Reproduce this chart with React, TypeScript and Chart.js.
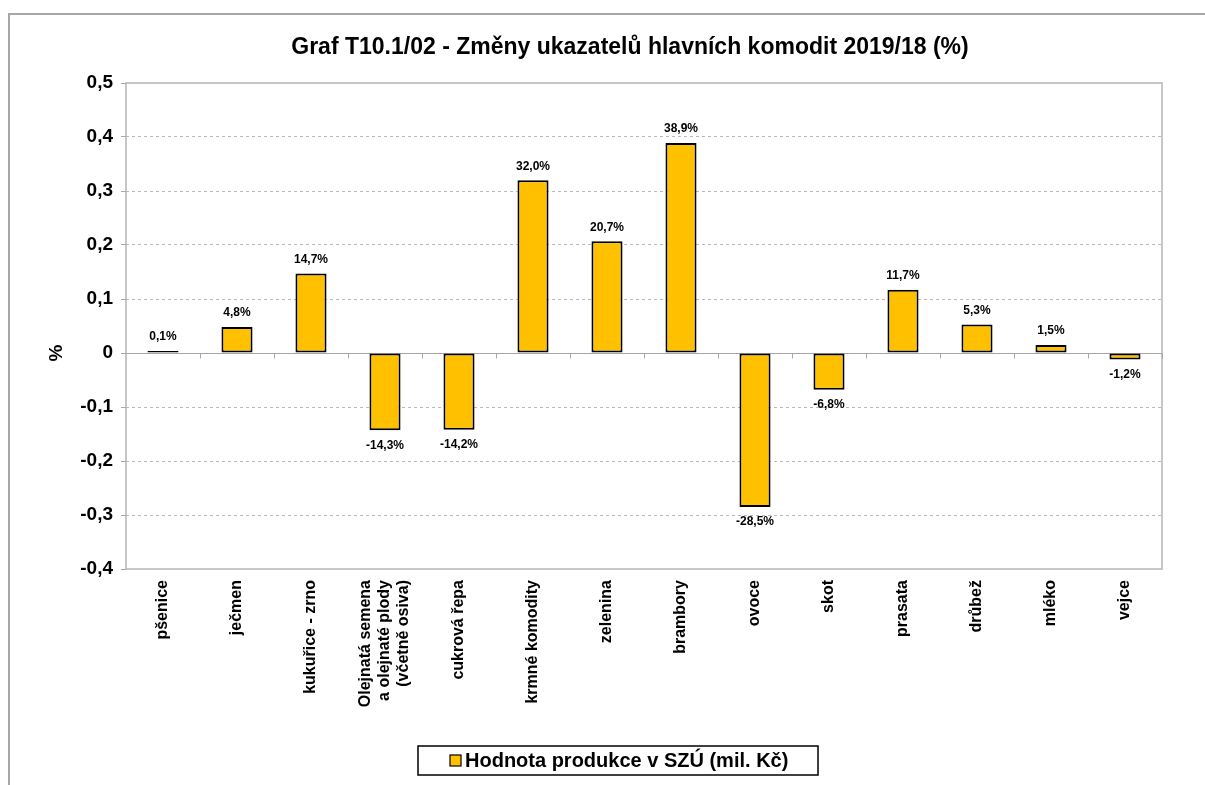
import React, { useEffect, useRef } from "react";
import { Chart, registerables } from "chart.js";

Chart.register(...registerables);

const TITLE = "Graf T10.1/02 - Změny ukazatelů hlavních komodit 2019/18 (%)";
const Y_TITLE = "%";
const SERIES_LABEL = "Hodnota produkce v SZÚ (mil. Kč)";
const categories: string[][] = [
  ["pšenice"],
  ["ječmen"],
  ["kukuřice - zrno"],
  ["Olejnatá semena", "a olejnaté plody", "(včetně osiva)"],
  ["cukrová řepa"],
  ["krmné komodity"],
  ["zelenina"],
  ["brambory"],
  ["ovoce"],
  ["skot"],
  ["prasata"],
  ["drůbež"],
  ["mléko"],
  ["vejce"],
];
const values: number[] = [
  0.001, 0.048, 0.147, -0.143, -0.142, 0.32, 0.207, 0.389, -0.285, -0.068, 0.117,
  0.053, 0.015, -0.012,
];
const Y_MIN = -0.4;
const Y_MAX = 0.5;
const Y_STEP = 0.1;

const FONT = "'Liberation Sans', Arial, sans-serif";

function fmtTick(v: number): string {
  if (Math.abs(v) < 1e-9) return "0";
  return v.toFixed(1).replace(".", ",");
}
function fmtPct(v: number): string {
  return (v * 100).toFixed(1).replace(".", ",") + "%";
}

const customPlugin = {
  id: "custom",
  beforeDatasetsDraw(chart: any) {
    const { ctx, chartArea } = chart;
    const x = chart.scales.x;
    const y = chart.scales.y;
    const y0 = Math.round(y.getPixelForValue(0)) + 0.5;
    ctx.save();
    // plot border
    ctx.strokeStyle = "#b4b4b4";
    ctx.lineWidth = 1.5;
    ctx.strokeRect(chartArea.left, chartArea.top, chartArea.right - chartArea.left, chartArea.bottom - chartArea.top);
    // zero line
    ctx.strokeStyle = "#a6a6a6";
    ctx.lineWidth = 1;
    ctx.beginPath();
    ctx.moveTo(chartArea.left, y0);
    ctx.lineTo(chartArea.right, y0);
    const n = categories.length;
    const step = x.getPixelForValue(1) - x.getPixelForValue(0);
    for (let i = 1; i <= n; i++) {
      const px = Math.round(x.getPixelForValue(i - 1) + step / 2) + 0.5;
      ctx.moveTo(px, y0);
      ctx.lineTo(px, y0 + 5);
    }
    ctx.stroke();
    // title
    ctx.fillStyle = "#000";
    ctx.font = `bold 23px ${FONT}`;
    ctx.textAlign = "center";
    ctx.textBaseline = "middle";
    ctx.fillText(TITLE, 620, 33);
    // y axis title
    ctx.font = `bold 19px ${FONT}`;
    ctx.save();
    ctx.translate(47, 338);
    ctx.rotate(-Math.PI / 2);
    ctx.fillText(Y_TITLE, 0, 0);
    ctx.restore();
    ctx.restore();
  },
  afterDatasetsDraw(chart: any) {
    const { ctx } = chart;
    const x = chart.scales.x;
    const meta = chart.getDatasetMeta(0);
    ctx.save();
    ctx.fillStyle = "#000";
    ctx.font = `bold 12px ${FONT}`;
    ctx.textAlign = "center";
    ctx.textBaseline = "middle";
    meta.data.forEach((bar: any, i: number) => {
      const v = values[i];
      const ty = v >= 0 ? Math.min(bar.y, bar.base) - 14 : bar.y + 15;
      ctx.fillText(fmtPct(v), bar.x, ty);
    });
    ctx.font = `bold 16px ${FONT}`;
    ctx.textAlign = "right";
    ctx.textBaseline = "middle";
    const topY = chart.chartArea.bottom + 11;
    const lh = 19;
    categories.forEach((lines, i) => {
      const cx = x.getPixelForValue(i);
      lines.forEach((line, j) => {
        const off = (j - (lines.length - 1) / 2) * lh;
        ctx.save();
        ctx.translate(cx + off, topY);
        ctx.rotate(-Math.PI / 2);
        ctx.fillText(line, 0, 0);
        ctx.restore();
      });
    });
    const ds = chart.data.datasets[0];
    const bx = 408, by = 731, bw = 400, bh = 29;
    ctx.strokeStyle = "#000";
    ctx.lineWidth = 1.5;
    ctx.strokeRect(bx, by, bw, bh);
    ctx.fillStyle = ds.backgroundColor;
    ctx.fillRect(440, by + 9, 11, 11);
    ctx.lineWidth = 1.2;
    ctx.strokeRect(440, by + 9, 11, 11);
    ctx.fillStyle = "#000";
    ctx.font = `bold 20px ${FONT}`;
    ctx.textAlign = "left";
    ctx.textBaseline = "middle";
    ctx.fillText(ds.label, 455, by + bh / 2 + 1);
    ctx.restore();
  },
};

export default function App() {
  const ref = useRef<HTMLCanvasElement | null>(null);
  useEffect(() => {
    if (!ref.current) return;
    const chart = new Chart(ref.current, {
      type: "bar",
      data: {
        labels: categories.map((c) => c.join(" ")),
        datasets: [
          {
            label: SERIES_LABEL,
            data: values,
            backgroundColor: "#FFC000",
            borderColor: "#000000",
            borderWidth: 2,
            borderSkipped: false,
            minBarLength: 2,
            categoryPercentage: 1,
            barPercentage: 0.42,
          },
        ],
      },
      options: {
        animation: false,
        responsive: false,
        devicePixelRatio: 1,
        layout: { padding: { top: 68, left: 0, right: 43, bottom: 46 } },
        plugins: {
          legend: { display: false },
          tooltip: { enabled: false },
          title: { display: false },
        },
        scales: {
          x: {
            grid: { display: false, drawTicks: false },
            border: { display: false },
            ticks: { display: false },
            afterFit: (s: any) => {
              s.height = 170;
            },
          },
          y: {
            min: Y_MIN,
            max: Y_MAX,
            ticks: {
              stepSize: Y_STEP,
              color: "#000",
              padding: 8,
              font: { family: FONT, size: 19, weight: "bold" },
              callback: (v: any) => fmtTick(Number(v)),
            },
            grid: {
              color: (c: any) =>
                Math.abs(c.tick.value) < 1e-9 || Math.abs(c.tick.value - Y_MAX) < 1e-9 || Math.abs(c.tick.value - Y_MIN) < 1e-9
                  ? "rgba(0,0,0,0)"
                  : "#b8b8b8",
              lineWidth: 1,
              tickColor: "#a6a6a6",
              tickLength: 5,
              tickBorderDash: [],
            },
            border: { display: false, dash: [3, 3] },
            afterFit: (s: any) => {
              s.width = 116;
            },
          },
        },
      },
      plugins: [customPlugin],
    });
    return () => chart.destroy();
  }, []);
  return (
    <div
      style={{
        position: "fixed",
        left: 8,
        top: 13,
        width: 1197,
        height: 772,
        borderTop: "2px solid #a6a6a6",
        borderLeft: "2px solid #a6a6a6",
        boxSizing: "border-box",
        background: "#fff",
      }}
    >
      <canvas ref={ref} width={1195} height={770} style={{ display: "block" }} />
    </div>
  );
}
